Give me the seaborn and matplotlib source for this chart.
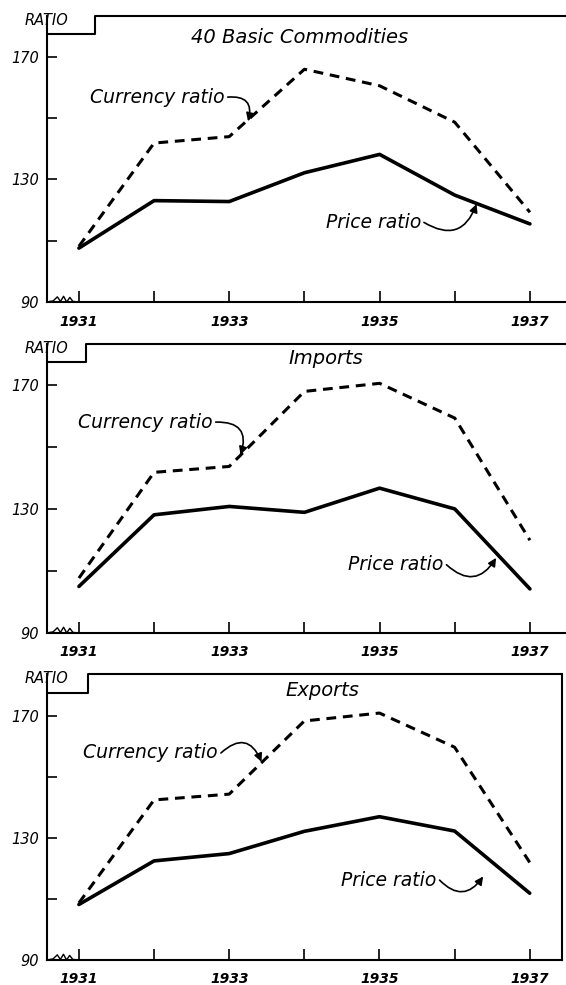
import numpy as np
import pandas as pd
import seaborn as sns
import matplotlib.pyplot as plt

sns.set_theme(style="white")
plt.rcParams['font.family'] = ['DejaVu Sans']
plt.rcParams['font.style'] = 'italic'
plt.rcParams['text.color'] = 'black'

# data
years = [1931, 1932, 1933, 1934, 1935, 1936, 1937]
label_years = [1931, 1933, 1935, 1937]
panel_titles = ["40 Basic Commodities", "Imports", "Exports"]

commod_currency = [108.2, 141.9, 144.0, 166.0, 160.6, 148.7, 119.3]
commod_price = [107.6, 123.1, 122.8, 132.2, 138.2, 124.9, 115.5]
imports_currency = [107.7, 141.8, 143.7, 167.9, 170.5, 159.3, 119.9]
imports_price = [105.0, 128.1, 130.8, 128.9, 136.7, 130.0, 104.2]
exports_currency = [108.7, 142.5, 144.4, 168.4, 171.0, 159.8, 122.0]
exports_price = [108.2, 122.5, 124.9, 132.2, 137.0, 132.3, 111.9]

# right end of each label (x, y) and arrow tip (x, y) in data units
currency_end = [(1932.94, 156.9), (1932.78, 158.0), (1932.85, 157.9)]
currency_tip = [(1933.25, 149.0), (1933.15, 147.4), (1933.43, 155.0)]
price_end = [(1935.55, 116.0), (1935.85, 112.0), (1935.76, 116.2)]
price_tip = [(1936.29, 122.0), (1936.55, 114.2), (1936.38, 117.4)]

series = [
    (commod_currency, commod_price),
    (imports_currency, imports_price),
    (exports_currency, exports_price),
]

# axes rectangles [left, bottom, width, height] in figure fraction
rects = [
    [0.083, 0.6934, 0.917, 0.2904],
    [0.083, 0.3574, 0.917, 0.2934],
    [0.083, 0.0254, 0.910, 0.2903],
]
ytops = [183.4, 183.2, 183.8]
xrights = [1937.48, 1937.48, 1937.43]
notch_x = [0.092, 0.075, 0.080]
notch_y = [0.937, 0.938, 0.934]
title_pos = [(0.487, 0.923), (0.537, 0.95), (0.534, 0.944)]

fig = plt.figure(figsize=(5.66, 9.85), dpi=100)

for i in range(3):
    ax = fig.add_axes(rects[i])
    cur, pri = series[i]
    df = pd.DataFrame({"year": years, "currency": cur, "price": pri})
    sns.lineplot(data=df, x="year", y="currency", ax=ax, color="black",
                 linewidth=2.2, linestyle=(0, (3.2, 2.2)))
    sns.lineplot(data=df, x="year", y="price", ax=ax, color="black",
                 linewidth=2.6)
    ax.set_xlim(1930.575, xrights[i])
    ax.set_ylim(90, ytops[i])
    ax.set_xlabel("")
    ax.set_ylabel("")

    ax.set_xticks(years)
    ax.set_xticklabels([str(y) if y in label_years else "" for y in years],
                       fontsize=10, fontweight="bold")
    ax.set_yticks([90, 110, 130, 150, 170])
    ax.set_yticklabels(["90", "", "130", "", "170"], fontsize=10.5)
    ax.tick_params(axis="x", direction="in", length=8, width=1.2,
                   pad=9, colors="black", bottom=True)
    ax.tick_params(axis="y", direction="in", length=7, width=1.2,
                   pad=6, colors="black", left=True)
    for lab in ax.get_xticklabels() + ax.get_yticklabels():
        lab.set_fontstyle("italic")

    ax.spines["top"].set_visible(False)
    ax.spines["right"].set_visible(i == 2)
    for s in ["left", "bottom", "right"]:
        ax.spines[s].set_color("black")
        ax.spines[s].set_linewidth(1.5)
    ax.grid(False)

    # stepped top border with the RATIO notch
    ax.plot([0, notch_x[i], notch_x[i], 1.0],
            [notch_y[i], notch_y[i], 1.0, 1.0],
            transform=ax.transAxes, color="black", lw=1.5, clip_on=False)
    ax.text(0.0, 0.985, "RATIO", transform=ax.transAxes, ha="center",
            va="center", fontsize=10.5, style="italic")

    # axis-break squiggle next to 90
    sx = [0.0, 0.012, 0.02, 0.026, 0.032, 0.038, 0.044, 0.05, 0.062]
    sy = [0.0, 0.004, 0.018, 0.002, 0.02, 0.0, 0.016, 0.002, 0.0]
    ax.plot(sx, sy, transform=ax.transAxes, color="black", lw=1.0,
            clip_on=False)

    ax.text(title_pos[i][0], title_pos[i][1], panel_titles[i],
            transform=ax.transAxes, ha="center", va="center",
            fontsize=14, style="italic")

    ax.text(currency_end[i][0], currency_end[i][1], "Currency ratio",
            fontsize=13.5, style="italic", ha="right", va="center")
    ax.annotate("", xy=currency_tip[i],
                xytext=(currency_end[i][0] + 0.04, currency_end[i][1]),
                arrowprops=dict(arrowstyle="-|>", color="black", lw=1.2,
                                connectionstyle="arc3,rad=-0.7",
                                shrinkA=0, shrinkB=0))
    ax.text(price_end[i][0], price_end[i][1], "Price ratio",
            fontsize=13.5, style="italic", ha="right", va="center")
    ax.annotate("", xy=price_tip[i],
                xytext=(price_end[i][0] + 0.04, price_end[i][1]),
                arrowprops=dict(arrowstyle="-|>", color="black", lw=1.2,
                                connectionstyle="arc3,rad=0.6",
                                shrinkA=0, shrinkB=0))

fig.savefig("out.png", dpi=100, facecolor="white")
